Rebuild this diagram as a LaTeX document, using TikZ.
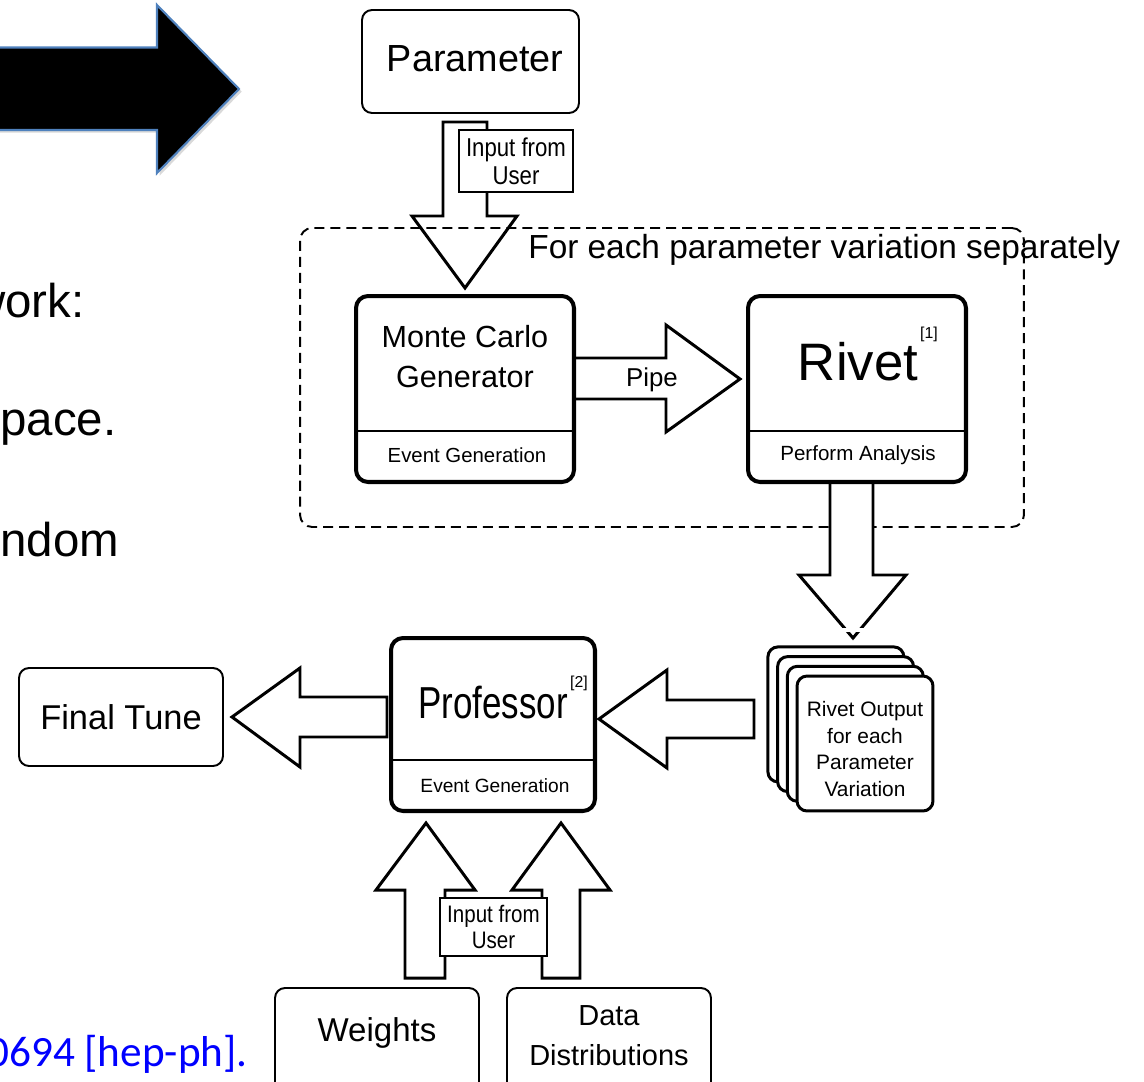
\documentclass[tikz,border=0pt]{standalone}
\usepackage{fontspec}
\setmainfont{Liberation Sans}
\newfontfamily\narrowfont[FakeStretch=0.86]{Liberation Sans}
\newfontfamily\proffont[FakeStretch=0.78]{Liberation Sans}
\newfontfamily\citefont{Carlito}
\usetikzlibrary{shadows}

\definecolor{slideblue}{RGB}{79,129,189}
\definecolor{linkblue}{RGB}{0,0,255}

\tikzset{
  thinbox/.style={draw, line width=1.1pt, rounded corners=0.2cm, fill=white},
  thickbox/.style={draw, line width=2.3pt, rounded corners=0.24cm, fill=white},
  stackbox/.style={draw, line width=1.7pt, rounded corners=0.2cm, fill=white,
    minimum width=2.72cm, minimum height=2.7cm},
  labelbox/.style={draw, line width=0.9pt, fill=white, inner sep=0pt, align=center,
    font=\narrowfont\fontsize{14.7}{16}\selectfont},
  blockarrow/.style={draw, line width=1.7pt, fill=white, line join=miter},
  loopbox/.style={draw, line width=1.1pt, rounded corners=0.24cm,
    dash pattern=on 5.7pt off 3.4pt},
  slidetext/.style={inner sep=0pt, font=\fontsize{27}{32}\selectfont},
}

\begin{document}
\begin{tikzpicture}[x=0.02cm, y=-0.02cm]
    \useasboundingbox (0,0) rectangle (1144,1082);
    \clip (0,0) rectangle (1144,1082);

    % slide leftovers
    \draw[fill=black, draw=slideblue, line width=1.2pt,
      drop shadow={shadow xshift=1.5pt, shadow yshift=-1.5pt, opacity=0.3}]
      (-10,47.5) -- (157,47.5) -- (157,5) -- (239,89) -- (157,173) -- (157,130) -- (-10,130) -- cycle;
    \node[slidetext, anchor=base east] (work) at (85,317) {work:};
    \node[slidetext, anchor=base west] (space) at (0,435) {pace.};
    \node[slidetext, anchor=base west] (random) at (0,556) {ndom};
    \node[inner sep=0pt, anchor=base east, text=linkblue,
      font=\citefont\fontsize{24.6}{28}\selectfont] (cite) at (248,1066) {0694 [hep-ph].};

    % parameter input
    \draw[blockarrow] (443,122) -- (487,122) -- (487,216) -- (517,216) -- (465,288) -- (412,216) -- (443,216) -- cycle;
    \node[labelbox, minimum width=2.28cm, minimum height=1.24cm] (userA) at (516,161) {Input from\\User};
    \node[thinbox, minimum width=4.34cm, minimum height=2.06cm] (par) at (470.5,61.5) {};
    \node[font=\fontsize{21.5}{25}\selectfont] (partext) at (475,59) {Parameter};

    % loop over variations
    \node[loopbox, minimum width=14.48cm, minimum height=5.98cm] (loop) at (662,377.5) {};
    \node[inner sep=0pt, anchor=base west, font=\fontsize{19}{22}\selectfont] (looptext) at (528,258)
      {For each parameter variation separately};

    \draw[blockarrow] (574,358) -- (666,358) -- (666,325) -- (740,379) -- (666,432) -- (666,399) -- (574,399) -- cycle;
    \node[font=\fontsize{14.7}{17}\selectfont] (pipe) at (652,380) {Pipe};

    \node[thickbox, minimum width=4.36cm, minimum height=3.72cm] (mc) at (465,389) {};
    \draw[line width=1.7pt] (mc.west |- 0,431) -- (mc.east |- 0,431);
    \node[align=center, font=\fontsize{17.4}{22.7}\selectfont] (mctext) at (465,357) {Monte Carlo\\Generator};
    \node[font=\fontsize{11.6}{14}\selectfont] (mcsub) at (467,455) {Event Generation};

    \draw[blockarrow] (830,482) -- (873,482) -- (873,575) -- (906,575) -- (853,638) -- (799,575) -- (830,575) -- cycle;
    \draw[white, line width=2pt] (830,630) -- (880,630);

    \node[thickbox, minimum width=4.36cm, minimum height=3.72cm] (rivet) at (857,389) {};
    \draw[line width=1.7pt] (rivet.west |- 0,431) -- (rivet.east |- 0,431);
    \node[font=\fontsize{30}{34}\selectfont] (rivettext) at (858,362) {Rivet};
    \node[inner sep=0pt, font=\fontsize{9}{10}\selectfont] (ref1) at (929,334) {[1]};
    \node[font=\fontsize{11.7}{14}\selectfont] (rivetsub) at (858,455) {Perform Analysis};

    % rivet outputs
    \foreach \k in {3,2,1,0}
      \node[stackbox] (out\k) at ({865-9.7*\k},{743.5-9.7*\k}) {};
    \node[align=center, font=\fontsize{11.9}{15.3}\selectfont] (outtext) at (865,749) {Rivet Output\\for each\\Parameter\\Variation};

    \draw[blockarrow] (754,700) -- (754,738) -- (667,738) -- (667,768) -- (599,719) -- (667,670) -- (667,700) -- cycle;

    % professor
    \node[thickbox, minimum width=4.08cm, minimum height=3.46cm] (prof) at (493,724.5) {};
    \draw[line width=1.7pt] (prof.west |- 0,760) -- (prof.east |- 0,760);
    \node[font=\proffont\fontsize{25.5}{30}\selectfont] (proftext) at (493,703) {Professor};
    \node[inner sep=0pt, font=\fontsize{9}{10}\selectfont] (ref2) at (579,683) {[2]};
    \node[font=\fontsize{10.9}{13}\selectfont] (profsub) at (495,786) {Event Generation};

    \draw[blockarrow] (387,697) -- (387,737) -- (300,737) -- (300,767) -- (232,717) -- (300,668) -- (300,697) -- cycle;
    \node[thinbox, minimum width=4.08cm, minimum height=1.96cm,
      font=\fontsize{19.6}{23}\selectfont] (tune) at (121,717) {Final Tune};

    % user input
    \draw[blockarrow] (405,978) -- (445,978) -- (445,890) -- (475,890) -- (426,823) -- (376,890) -- (405,890) -- cycle;
    \draw[blockarrow] (542,978) -- (580,978) -- (580,890) -- (610,890) -- (561,823) -- (512,890) -- (542,890) -- cycle;
    \node[labelbox, minimum width=2.14cm, minimum height=1.16cm,
      font=\narrowfont\fontsize{13.6}{15.3}\selectfont] (userB) at (493.5,927) {Input from\\User};

    \node[thinbox, minimum width=4.08cm, minimum height=2.2cm] (weights) at (377,1043) {};
    \node[font=\fontsize{18.8}{22}\selectfont] (wtext) at (377,1033) {Weights};
    \node[thinbox, minimum width=4.08cm, minimum height=2.2cm] (data) at (609,1043) {};
    \node[align=center, font=\fontsize{16.5}{22.7}\selectfont] (dtext) at (609,1036) {Data\\Distributions};
\end{tikzpicture}
\end{document}
